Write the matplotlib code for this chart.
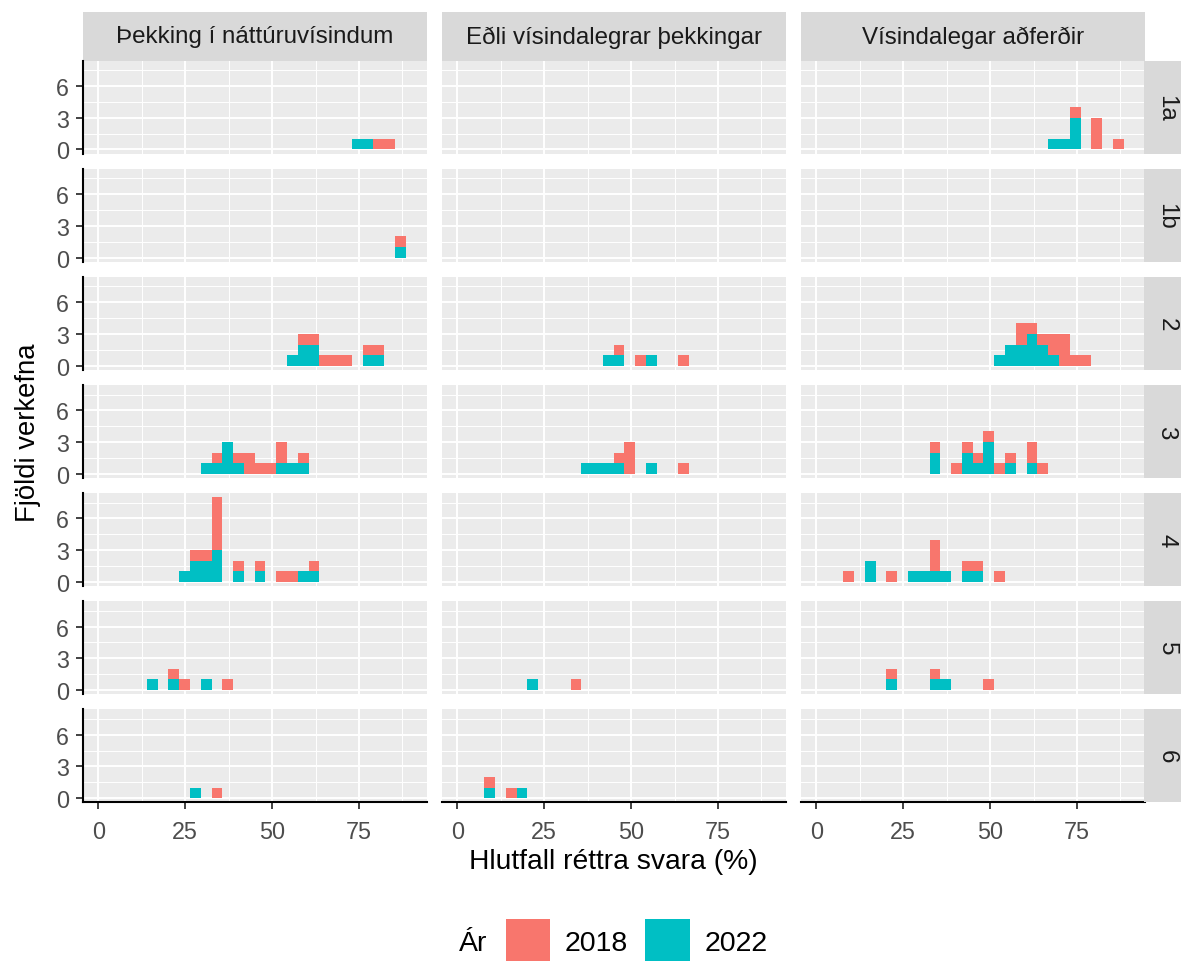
import matplotlib.pyplot as plt
import numpy as np
from matplotlib.patches import Patch

# percent correct per task, per domain / level / year
rows = ["1a", "1b", "2", "3", "4", "5", "6"]
cols = ["Þekking í náttúruvísindum", "Eðli vísindalegrar þekkingar", "Vísindalegar aðferðir"]

thekking_2018 = {
    "1a": [80.7, 83.8],
    "1b": [86.9],
    "2": [59.0, 62.1, 65.2, 68.3, 71.4, 77.6, 80.7],
    "3": [34.1, 40.3, 43.4, 43.4, 46.6, 49.7, 52.8, 52.8, 59.0],
    "4": [27.9, 31.0, 34.1, 34.1, 34.1, 34.1, 34.1, 40.3, 46.6, 52.8, 55.9, 62.1],
    "5": [21.7, 24.8, 37.2],
    "6": [34.1],
}
thekking_2022 = {
    "1a": [74.5, 77.6],
    "1b": [86.9],
    "2": [55.9, 59.0, 59.0, 62.1, 62.1, 77.6, 80.7],
    "3": [31.0, 34.1, 37.2, 37.2, 37.2, 40.3, 52.8, 55.9, 59.0],
    "4": [24.8, 27.9, 27.9, 31.0, 31.0, 34.1, 34.1, 34.1, 40.3, 46.6, 59.0, 62.1],
    "5": [15.5, 21.7, 31.0],
    "6": [27.9],
}
edli_2018 = {
    "2": [46.6, 52.8, 65.2],
    "3": [46.6, 49.7, 49.7, 49.7, 65.2],
    "5": [34.1],
    "6": [9.3, 15.5],
}
edli_2022 = {
    "2": [43.4, 46.6, 55.9],
    "3": [37.2, 40.3, 43.4, 46.6, 55.9],
    "5": [21.7],
    "6": [9.3, 18.6],
}
adferdir_2018 = {
    "1a": [74.5, 80.7, 80.7, 80.7, 86.9],
    "2": [59.0, 59.0, 62.1, 65.2, 68.3, 68.3, 71.4, 71.4, 71.4, 74.5, 77.6],
    "3": [34.1, 40.3, 43.4, 46.6, 49.7, 52.8, 55.9, 62.1, 62.1, 65.2],
    "4": [9.3, 21.7, 34.1, 34.1, 34.1, 43.4, 46.6, 52.8],
    "5": [21.7, 34.1, 49.7],
}
adferdir_2022 = {
    "1a": [68.3, 71.4, 74.5, 74.5, 74.5],
    "2": [52.8, 55.9, 55.9, 59.0, 59.0, 62.1, 62.1, 62.1, 65.2, 65.2, 68.3],
    "3": [34.1, 34.1, 43.4, 43.4, 46.6, 49.7, 49.7, 49.7, 55.9, 62.1],
    "4": [15.5, 15.5, 27.9, 31.0, 34.1, 37.2, 43.4, 46.6],
    "5": [21.7, 34.1, 37.2],
}
data_2018 = [thekking_2018, edli_2018, adferdir_2018]
data_2022 = [thekking_2022, edli_2022, adferdir_2022]

pink = "#F8766D"
teal = "#00BFC4"

# 30 bins over 0-90, centred on 0 and 90 (ggplot default)
bw = 90 / 29
edges = np.arange(31) * bw - bw / 2

plt.rcParams["font.family"] = ["Liberation Sans", "DejaVu Sans"]
W, H = 1181, 962
fig = plt.figure(figsize=(W / 100, H / 100), dpi=100)


def box(x0, y0, x1, y1):
    return [x0 / W, 1 - y1 / H, (x1 - x0) / W, (y1 - y0) / H]


col_left = [82.7, 441.7, 800.7]
col_w = 344
row_top = 61.7
row_h = 93
row_step = 108.1

for j, name in enumerate(cols):
    # top strip
    sx = fig.add_axes(box(col_left[j], 13.3, col_left[j] + col_w, 61.7))
    sx.set_facecolor("#D9D9D9")
    sx.set_xticks([])
    sx.set_yticks([])
    for s in sx.spines.values():
        s.set_visible(False)
    sx.text(0.5, 0.5, name, ha="center", va="center", fontsize=17.4,
            color="#1A1A1A", transform=sx.transAxes)

    for i, r in enumerate(rows):
        y0 = row_top + i * row_step
        ax = fig.add_axes(box(col_left[j], y0, col_left[j] + col_w, y0 + row_h))
        ax.set_facecolor("#EBEBEB")
        v18 = data_2018[j].get(r, [])
        v22 = data_2022[j].get(r, [])
        if v18 or v22:
            ax.hist([v22, v18], bins=edges, stacked=True, color=[teal, pink],
                    linewidth=0)
        ax.set_xlim(-4.5, 94.5)
        ax.set_ylim(-0.4, 8.4)
        ax.set_xticks([0, 25, 50, 75])
        ax.set_xticks([12.5, 37.5, 62.5, 87.5], minor=True)
        ax.set_yticks([0, 3, 6])
        ax.set_yticks([1.5, 4.5, 7.5], minor=True)
        ax.set_axisbelow(True)
        ax.grid(which="major", color="white", lw=1.4)
        ax.grid(which="minor", color="white", lw=0.7)
        for s in ax.spines.values():
            s.set_visible(False)
        ax.tick_params(which="minor", length=0)
        ax.tick_params(which="major", length=5, width=1.3, color="#333333",
                       labelsize=16.8, labelcolor="#4D4D4D", pad=5)
        ax.tick_params(axis="x", pad=7.5)
        if j == 0:
            ax.spines["left"].set_visible(True)
            ax.spines["left"].set_linewidth(1.5)
            ax.spines["left"].set_color("black")
        else:
            ax.tick_params(axis="y", length=0, labelleft=False)
        if i == len(rows) - 1:
            ax.spines["bottom"].set_visible(True)
            ax.spines["bottom"].set_linewidth(1.5)
            ax.spines["bottom"].set_color("black")
        else:
            ax.tick_params(axis="x", length=0, labelbottom=False)

        if j == len(cols) - 1:
            rx = fig.add_axes(box(1144.3, y0, 1181, y0 + row_h))
            rx.set_facecolor("#D9D9D9")
            rx.set_xticks([])
            rx.set_yticks([])
            for s in rx.spines.values():
                s.set_visible(False)
            fig.text(1166.5 / W, 1 - (y0 + row_h / 2) / H, r, rotation=270,
                     ha="center", va="center", fontsize=17.4, color="#1A1A1A")

fig.text(613.5 / W, 1 - 862 / H, "Hlutfall réttra svara (%)", ha="center",
         va="center", fontsize=20.3)
fig.text(28 / W, 1 - 432.5 / H, "Fjöldi verkefna", ha="center", va="center",
         rotation=90, fontsize=19.8)

fig.text(473.5 / W, 1 - 951.5 / H, "Ár", ha="center", va="baseline", fontsize=20.5)
handles = [Patch(facecolor=pink, edgecolor="none"), Patch(facecolor=teal, edgecolor="none")]
fig.legend(handles, ["2018", "2022"], loc="center left",
           bbox_to_anchor=(505.5 / W, 1 - 942 / H), ncol=2, frameon=False,
           fontsize=20.5, handlelength=1.58, handleheight=1.95,
           handletextpad=0.49, columnspacing=0.62, borderpad=0, borderaxespad=0)

fig.savefig("out.png", dpi=100)
